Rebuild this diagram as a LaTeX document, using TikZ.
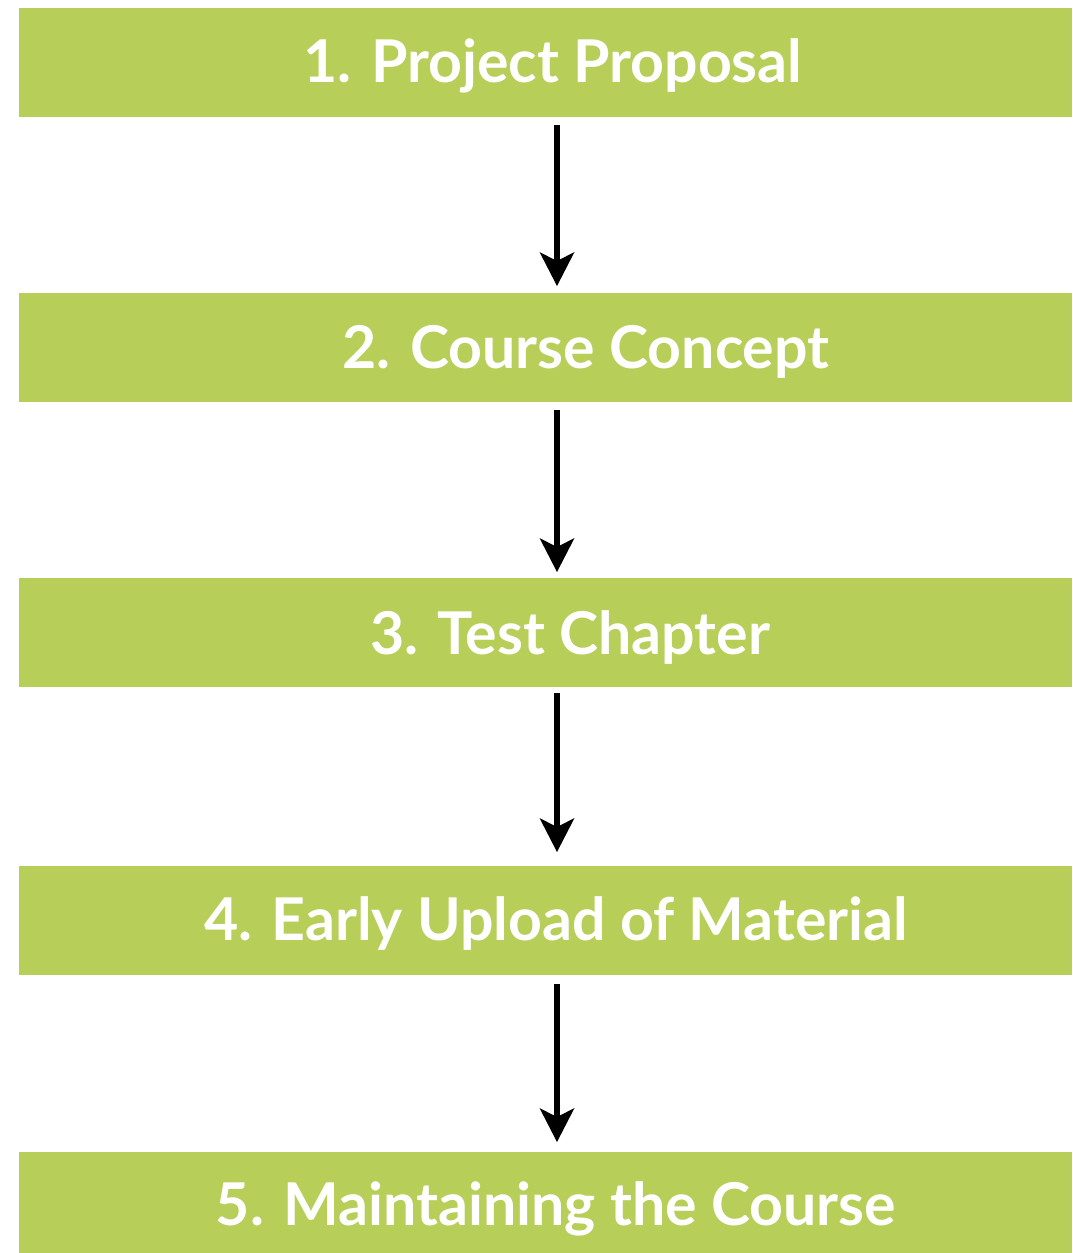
\documentclass[tikz,border=0pt]{standalone}
\usepackage{fontspec}
\setmainfont{Lato}
\definecolor{boxgreen}{RGB}{183,206,88}
\begin{document}
\begin{tikzpicture}[x=1pt,y=1pt,
  stepbox/.style={fill=boxgreen,draw=none,minimum width=1053pt,minimum height=109pt,inner sep=0pt,anchor=north west},
  steplabel/.style={text=white,font=\fontsize{59}{62}\selectfont\bfseries,inner sep=0pt},
  flow/.style={line width=6pt,black},
  tiphead/.style={fill=black,draw=none}]
\useasboundingbox[fill=white] (0,0) rectangle (1072,-1253);
\node[stepbox] (b1) at (19,-8) {};
\node[stepbox] (b2) at (19,-293) {};
\node[stepbox] (b3) at (19,-578) {};
\node[stepbox] (b4) at (19,-866) {};
\node[stepbox] (b5) at (19,-1152) {};
\node[steplabel] (t1) at (553,-66) {1. Project Proposal};
\node[steplabel] (t2) at (586,-352) {2. Course Concept};
\node[steplabel] (t3) at (570,-638) {3. Test Chapter};
\node[steplabel] (t4) at (556,-924) {4. Early Upload of Material};
\node[steplabel] (t5) at (556,-1209) {5. Maintaining the Course};
\foreach \s/\e in {125/286, 410/572, 693/852, 984/1142}{
  \coordinate (as) at (557,-\s);
  \coordinate (ae) at (557,-\e);
  \draw[flow] (as) -- ([yshift=20pt]ae);
  \fill[tiphead] (ae) -- ++(-17.5,34) -- ++(17.5,-9) -- ++(17.5,9) -- cycle;
}
\end{tikzpicture}
\end{document}
